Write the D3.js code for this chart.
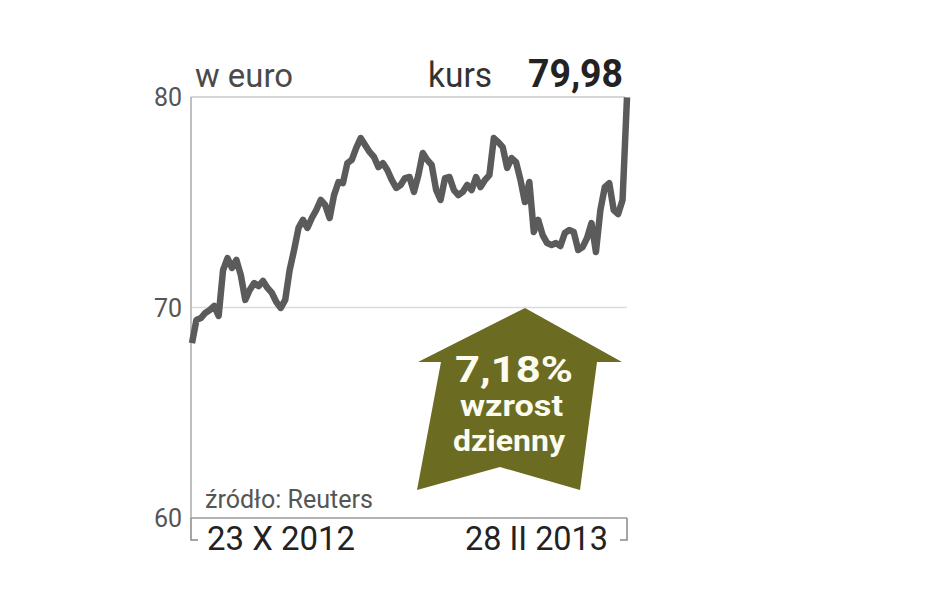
<!DOCTYPE html>
<html><head><meta charset="utf-8">
<script src="https://cdn.jsdelivr.net/npm/d3@7"></script>
<style>html,body{margin:0;padding:0;background:#fff;}svg{display:block;}</style>
</head><body>
<svg id="c" width="948" height="593"></svg>
<script>
const prices = [
 68.31,69.41,69.50,69.74,69.88,70.07,69.60,71.78,72.35,71.88,72.26,71.54,70.36,70.83,71.16,71.02,71.26,70.93,70.69,70.26,69.98,70.36,71.78,72.73,
 73.78,74.16,73.78,74.25,74.63,75.11,74.87,74.25,75.34,75.96,75.91,76.86,77.01,77.58,78.05,77.72,77.39,77.15,76.67,76.86,76.53,76.06,75.68,75.82,76.15,76.20,75.49,76.29,77.34,77.01,76.77,75.58,75.11,76.15,76.20,75.58,75.34,75.49,75.82,75.58,76.20,75.72,76.06,76.29,
 78.05,77.86,77.62,76.63,77.10,76.91,76.06,75.01,75.96,73.59,74.16,73.44,73.06,72.97,73.06,72.92,73.54,73.68,73.59,72.73,72.87,73.30,74.01,72.64,74.63,75.72,75.91,74.63,74.44,75.11,79.98
];
const yTicks = [60, 70, 80];
const dateLabels = ["23 X 2012", "28 II 2013"];
const unitLabel = "w euro";
const lastLabel = "kurs";
const lastValue = "79,98";
const sourceLabel = "źródło: Reuters";
const badgeLines = ["7,18%", "wzrost", "dzienny"];

const svg = d3.select("#c");
const L = 191, R = 627, T = 97, B = 518;
const x = d3.scaleLinear().domain([0, prices.length - 1]).range([192, 627]);
const y = d3.scaleLinear().domain([60, 80]).range([B, T]);

// frame lines
svg.append("line").attr("x1", L).attr("x2", 625).attr("y1", y(80)).attr("y2", y(80)).attr("stroke", "#c8c8c8").attr("stroke-width", 1.5);
svg.append("line").attr("x1", L).attr("x2", R).attr("y1", y(70)).attr("y2", y(70)).attr("stroke", "#dcdcdc").attr("stroke-width", 1.5);
svg.append("line").attr("x1", L).attr("x2", R).attr("y1", y(60)).attr("y2", y(60)).attr("stroke", "#9a9a9a").attr("stroke-width", 1.5);
svg.append("line").attr("x1", L).attr("x2", L).attr("y1", y(80)).attr("y2", y(60)).attr("stroke", "#aaaaaa").attr("stroke-width", 1.5);
// bottom brackets
svg.append("path").attr("d", `M${L},${B} V540 H198`).attr("fill", "none").attr("stroke", "#888").attr("stroke-width", 1.5);
svg.append("path").attr("d", `M${R},${B} V540 H620`).attr("fill", "none").attr("stroke", "#888").attr("stroke-width", 1.5);

// y tick labels
svg.selectAll("text.yt").data(yTicks).join("text").attr("class", "yt")
  .attr("x", 182).attr("y", d => y(d)).attr("dy", "0.36em").attr("text-anchor", "end")
  .attr("font-family", "Roboto").attr("font-size", 25).attr("fill", "#555").text(d => d);

// header texts
svg.append("text").attr("x", 195).attr("y", 87).attr("font-family", "Roboto").attr("font-size", 34)
  .attr("fill", "#4a4a4a").attr("textLength", 98).attr("lengthAdjust", "spacingAndGlyphs").text(unitLabel);
svg.append("text").attr("x", 428).attr("y", 87).attr("font-family", "Roboto").attr("font-size", 35)
  .attr("fill", "#333").attr("textLength", 64).attr("lengthAdjust", "spacingAndGlyphs").text(lastLabel);
svg.append("text").attr("x", 528).attr("y", 87).attr("font-family", "Roboto").attr("font-weight", 700).attr("font-size", 39)
  .attr("fill", "#222").attr("textLength", 95).attr("lengthAdjust", "spacingAndGlyphs").text(lastValue);

// source
svg.append("text").attr("x", 205).attr("y", 508).attr("font-family", "Roboto").attr("font-size", 25)
  .attr("fill", "#555").attr("textLength", 168).attr("lengthAdjust", "spacingAndGlyphs").text(sourceLabel);

// date labels
svg.append("text").attr("x", 207).attr("y", 550).attr("font-family", "Roboto").attr("font-size", 33)
  .attr("fill", "#222").attr("textLength", 148).attr("lengthAdjust", "spacingAndGlyphs").text(dateLabels[0]);
svg.append("text").attr("x", 465).attr("y", 550).attr("font-family", "Roboto").attr("font-size", 33)
  .attr("fill", "#222").attr("textLength", 143).attr("lengthAdjust", "spacingAndGlyphs").text(dateLabels[1]);

// badge arrow
const arrowPts = [[525,308],[622,362],[597,362],[580,490],[500,467],[417,490],[441,362],[418,362]];
svg.append("path").attr("d", d3.line()(arrowPts) + "Z").attr("fill", "#6c6b22");
svg.append("text").attr("x", 455).attr("y", 382).attr("font-family", "Roboto").attr("font-weight", 700).attr("font-size", 36)
  .attr("fill", "#fbfbf0").attr("textLength", 118).attr("lengthAdjust", "spacingAndGlyphs").text(badgeLines[0]);
svg.append("text").attr("x", 460).attr("y", 416).attr("font-family", "Roboto").attr("font-weight", 700).attr("font-size", 29)
  .attr("fill", "#fbfbf0").attr("textLength", 103).attr("lengthAdjust", "spacingAndGlyphs").text(badgeLines[1]);
svg.append("text").attr("x", 453).attr("y", 451).attr("font-family", "Roboto").attr("font-weight", 700).attr("font-size", 29)
  .attr("fill", "#fbfbf0").attr("textLength", 112).attr("lengthAdjust", "spacingAndGlyphs").text(badgeLines[2]);

// price line
svg.append("path").datum(prices)
  .attr("d", d3.line().x((d, i) => x(i)).y(d => y(d)))
  .attr("fill", "none").attr("stroke", "#5b5b5b").attr("stroke-width", 6.5)
  .attr("stroke-linejoin", "round").attr("stroke-linecap", "butt");
</script>
</body></html>
